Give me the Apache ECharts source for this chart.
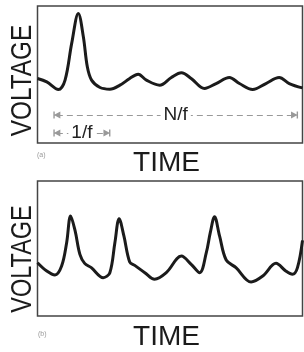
<!DOCTYPE html>
<html>
<head>
    <meta charset="utf-8">
    <title>Voltage vs time</title>
    <script src="https://cdn.jsdelivr.net/npm/echarts@6/dist/echarts.min.js"></script>
    <style>
        html, body { margin: 0; padding: 0; background: #fff; }
    </style>
</head>
<body>
    <div id="main" style="width: 304px;height:352px;"></div>
    <script type="text/javascript">
        // (a) waveform: [time, voltage], both 0..100 across the box
        var timeA = [0, 3.5, 7.9, 10.4, 12.9, 15.4, 17.3, 18.8, 20.4, 23.6, 27.3, 31.1, 34.8, 38.0, 41.1, 46.1, 50.5, 54.3, 58.0, 63.0, 67.4, 72.4, 76.2, 81.2, 86.2, 91.2, 95.0, 100];
        var voltA = [47.1, 44.6, 39.0, 45.9, 72.7, 94.6, 77.6, 55.6, 45.9, 40.5, 39.3, 42.2, 47.1, 50.2, 45.9, 42.2, 47.8, 51.2, 47.1, 39.8, 43.4, 47.8, 43.4, 39.0, 43.4, 47.8, 43.4, 40.2];

        // (b) waveform
        var timeB = [0, 3.5, 6.6, 9.1, 11.0, 12.5, 14.2, 16.0, 17.8, 20.3, 24.8, 27.3, 29.2, 30.8, 32.6, 34.8, 36.7, 40.5, 44.2, 48.6, 54.3, 58.0, 61.2, 63.7, 65.2, 66.8, 68.7, 71.2, 74.9, 80.6, 85.0, 90.0, 93.7, 96.2, 98.1, 100];
        var voltB = [39.5, 33.3, 30.4, 37.0, 54.3, 74.1, 63.0, 45.7, 39.0, 35.8, 28.4, 32.1, 54.3, 72.1, 59.3, 40.0, 37.5, 32.1, 27.2, 32.1, 44.4, 38.3, 32.1, 46.9, 61.7, 73.6, 59.3, 41.5, 35.8, 25.2, 29.6, 39.0, 33.3, 30.9, 35.8, 56.0];

        // spans marked under curve (a): [start, end, level]
        var fullSpan = [7.3, 97, 20.4];
        var periodSpan = [7.3, 26.2, 7.3];

        function pairs(xs, ys) {
            var out = [];
            for (var i = 0; i < xs.length; i++) out.push([xs[i], ys[i]]);
            return out;
        }

        var ink = '#1b1b1b';
        var endMark = 'path://M0,0 L10,0 L10,1.6 L0,1.6 Z M5,0.5 L10,8 L0,8 Z';

        var myChart = echarts.init(document.getElementById('main'));

        var axisOff = { show: false, min: 0, max: 100, type: 'value' };
        var option = {
            animation: false,
            backgroundColor: '#fff',
            grid: [
                { left: 37.5, top: 6, width: 265, height: 137, show: true, borderColor: '#444', borderWidth: 1.5, backgroundColor: '#fff' },
                { left: 37.5, top: 181, width: 265, height: 135, show: true, borderColor: '#444', borderWidth: 1.5, backgroundColor: '#fff' }
            ],
            xAxis: [
                Object.assign({ gridIndex: 0 }, axisOff),
                Object.assign({ gridIndex: 1 }, axisOff)
            ],
            yAxis: [
                Object.assign({ gridIndex: 0 }, axisOff),
                Object.assign({ gridIndex: 1 }, axisOff)
            ],
            series: [
                {
                    type: 'line',
                    xAxisIndex: 0, yAxisIndex: 0,
                    data: pairs(timeA, voltA),
                    smooth: 0.35,
                    showSymbol: false,
                    lineStyle: { color: ink, width: 3 },
                    markLine: {
                        silent: true,
                        symbol: [endMark, endMark],
                        symbolSize: [7, 7],
                        lineStyle: { color: '#999', width: 1, type: [6, 4] },
                        label: {
                            show: true, position: 'middle', formatter: '{b}',
                            fontFamily: 'Liberation Sans', fontSize: 19, lineHeight: 14, color: '#222',
                            backgroundColor: '#fff', padding: [0, 3], distance: -7
                        },
                        itemStyle: { color: '#333' },
                        data: [
                            [{ name: 'N/f', coord: [fullSpan[0], fullSpan[2]] }, { coord: [fullSpan[1], fullSpan[2]] }],
                            [{ name: '1/f', coord: [periodSpan[0], periodSpan[2]] }, { coord: [periodSpan[1], periodSpan[2]] }]
                        ]
                    }
                },
                {
                    type: 'line',
                    xAxisIndex: 1, yAxisIndex: 1,
                    data: pairs(timeB, voltB),
                    smooth: 0.35,
                    showSymbol: false,
                    lineStyle: { color: ink, width: 3 }
                }
            ],
            graphic: [
                { type: 'text', x: 22.5, y: 80.5, rotation: Math.PI / 2, scaleX: 0.84,
                  style: { text: 'VOLTAGE', font: '29px "Liberation Sans"', fill: ink, align: 'center', verticalAlign: 'middle' } },
                { type: 'text', x: 22.5, y: 259, rotation: Math.PI / 2, scaleX: 0.81,
                  style: { text: 'VOLTAGE', font: '29px "Liberation Sans"', fill: ink, align: 'center', verticalAlign: 'middle' } },
                { type: 'text', x: 166.5, y: 163, style: { text: 'TIME', font: '28px "Liberation Sans"', fill: ink, align: 'center', verticalAlign: 'middle' } },
                { type: 'text', x: 166.5, y: 337, style: { text: 'TIME', font: '28px "Liberation Sans"', fill: ink, align: 'center', verticalAlign: 'middle' } },
                { type: 'text', x: 37, y: 155, style: { text: '(a)', font: '7px "Liberation Sans"', fill: '#999', verticalAlign: 'middle' } },
                { type: 'text', x: 38, y: 334, style: { text: '(b)', font: '7px "Liberation Sans"', fill: '#999', verticalAlign: 'middle' } }
            ]
        };

        myChart.setOption(option);
    </script>
</body>
</html>
